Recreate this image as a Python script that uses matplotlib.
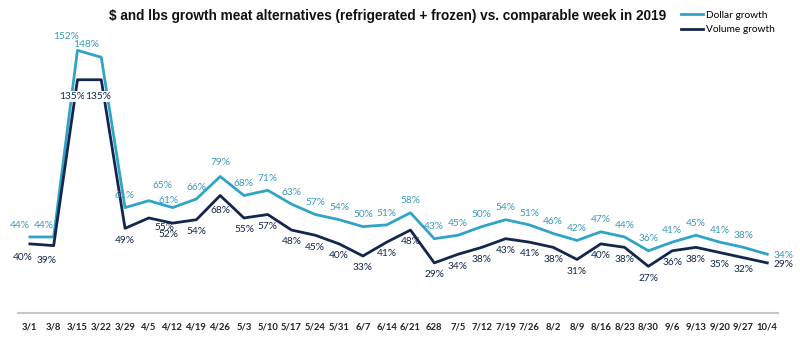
import matplotlib.pyplot as plt

weeks = ["3/1", "3/8", "3/15", "3/22", "3/29", "4/5", "4/12", "4/19", "4/26", "5/3", "5/10",
         "5/17", "5/24", "5/31", "6/7", "6/14", "6/21", "628", "7/5", "7/12", "7/19", "7/26",
         "8/2", "8/9", "8/16", "8/23", "8/30", "9/6", "9/13", "9/20", "9/27", "10/4"]
dollar = [44, 44, 152, 148, 61, 65, 61, 66, 79, 68, 71, 63, 57, 54, 50, 51, 58, 43, 45, 50,
          54, 51, 46, 42, 47, 44, 36, 41, 45, 41, 38, 34]
volume = [40, 39, 135, 135, 49, 55, 52, 54, 68, 55, 57, 48, 45, 40, 33, 41, 48, 29, 34, 38,
          43, 41, 38, 31, 40, 38, 27, 36, 38, 35, 32, 29]

C_DOL = "#2fa4c7"
C_VOL = "#13264d"
C_DOL_TXT = "#3a9ab8"
C_AX = "#c8c8c8"

plt.rcParams["font.family"] = ["Lato", "DejaVu Sans"]

fig = plt.figure(figsize=(8, 3.45), dpi=100)
ax = fig.add_axes([18 / 800, 32 / 345, 760 / 800, 273 / 345])
x = list(range(len(weeks)))
ax.plot(x, dollar, color=C_DOL, lw=2.0, label="Dollar growth")
ax.plot(x, volume, color=C_VOL, lw=2.0, label="Volume growth")

# label offsets in points (dx, dy); defaults: dollar above, volume below
d_off = {0: (-7, 8), 1: (-7, 8), 2: (-8, 10), 3: (-11, 9.5), 5: (10, 11), 6: (-3, 5),
         8: (0, 10), 31: (12, -1)}
v_off = {0: (-5, -10), 1: (-5, -11), 2: (-4, -12), 3: (-2, -12), 5: (11, -7), 6: (-3, -8),
         8: (0, -11), 31: (12, -1)}
boxed = (2, 3)  # the 135% labels sit on a white patch over the lines
for i in x:
    dx, dy = d_off.get(i, (0, 8.5))
    ax.annotate(f"{dollar[i]}%", (i, dollar[i]), xytext=(dx, dy), textcoords="offset points",
                ha="center", va="center", fontsize=7.3, color=C_DOL_TXT)
    dx, dy = v_off.get(i, (0, -8.5))
    bb = dict(boxstyle="square,pad=0.1", fc="white", ec="none") if i in boxed else None
    ax.annotate(f"{volume[i]}%", (i, volume[i]), xytext=(dx, dy), textcoords="offset points",
                ha="center", va="center", fontsize=7.3, color=C_VOL, bbox=bb, zorder=5)

ax.set_xlim(-0.5, 31.45)
ax.set_ylim(0, 158)
ax.set_yticks([])
ax.set_xticks(x)
ax.set_xticklabels(weeks, fontsize=6.8, fontweight="bold", color="#222222")
ax.tick_params(axis="x", length=0, pad=7)
for s in ("top", "right", "left"):
    ax.spines[s].set_visible(False)
ax.spines["bottom"].set_color(C_AX)
ax.spines["bottom"].set_linewidth(1.5)

fig.text(0.485, 0.953, "$ and lbs growth meat alternatives (refrigerated + frozen) vs. comparable week in 2019",
         ha="center", va="center", fontsize=9.8, fontweight="bold", color="#111111",
         family="Liberation Sans")
ax.legend(loc="upper left", bbox_to_anchor=(0.86, 1.14), frameon=False, fontsize=7.3,
          handlelength=2.2, handletextpad=0.3, labelspacing=0.5)

fig.savefig("out.png", dpi=100)
